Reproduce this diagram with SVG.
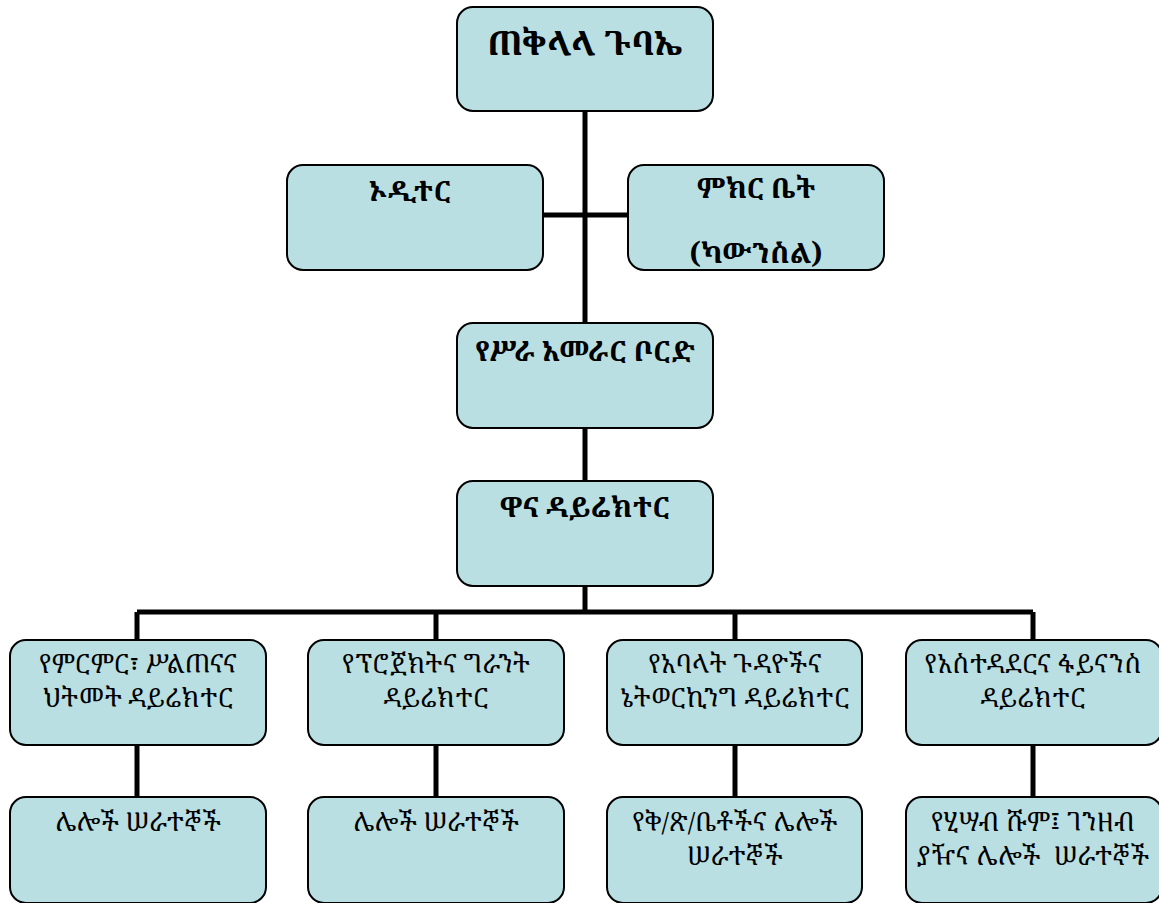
<svg xmlns="http://www.w3.org/2000/svg" width="1159" height="903" viewBox="0 0 1159 903">
<style>
.box{fill:#B9DFE2;stroke:#000;stroke-width:2}
.t{font-family:"Noto Serif Ethiopic","Noto Sans Ethiopic","Abyssinica SIL","Noto Sans","DejaVu Sans",sans-serif;fill:#000;text-anchor:middle}
.b{font-weight:bold;font-size:28px}
.h{font-weight:bold;font-size:34px}
.n{font-size:26px}
.c{fill:none;stroke:#000;stroke-width:5}
</style>
<rect width="1159" height="903" fill="#fff"/>
<g id="connectors">
<path class="c" d="M585 111V323M543 215H628M585 428V481M585 586V612M137 612H1033M137 612V640M436 612V640M735 612V640M1033 612V640M137 745V797M436 745V797M735 745V797M1033 745V797"/>
</g>
<g id="n1"><rect class="box" x="457" y="7" width="256" height="104" rx="16"/><text class="t h" x="585" y="55">ጠቅላላ ጉባኤ</text></g>
<g id="n2"><rect class="box" x="287" y="165" width="256" height="105" rx="16"/><text class="t b" x="410" y="201">ኦዲተር</text></g>
<g id="n3"><rect class="box" x="628" y="165" width="256" height="105" rx="16"/><text class="t b" x="756" y="198">ምክር ቤት</text><text class="t b" x="756" y="263">(ካውንስል)</text></g>
<g id="n4"><rect class="box" x="457" y="323" width="256" height="105" rx="16"/><text class="t b" x="585" y="361">የሥራ አመራር ቦርድ</text></g>
<g id="n5"><rect class="box" x="457" y="481" width="256" height="105" rx="16"/><text class="t b" x="585" y="517">ዋና ዳይሬክተር</text></g>
<g id="n6"><rect class="box" x="10" y="640" width="256" height="105" rx="16"/><text class="t n" x="138" y="673">የምርምር፣ ሥልጠናና</text><text class="t n" x="138" y="707">ህትመት ዳይሬክተር</text></g>
<g id="n7"><rect class="box" x="308" y="640" width="256" height="105" rx="16"/><text class="t n" x="436" y="673">የፕሮጀክትና ግራንት</text><text class="t n" x="436" y="707">ዳይሬክተር</text></g>
<g id="n8"><rect class="box" x="607" y="640" width="255" height="105" rx="16"/><text class="t n" x="735" y="673">የአባላት ጉዳዮችና</text><text class="t n" x="735" y="707">ኔትወርኪንግ ዳይሬክተር</text></g>
<g id="n9"><rect class="box" x="906" y="640" width="256" height="105" rx="16"/><text class="t n" x="1033" y="673">የአስተዳደርና ፋይናንስ</text><text class="t n" x="1033" y="707">ዳይሬክተር</text></g>
<g id="n10"><rect class="box" x="10" y="797" width="256" height="106" rx="16"/><text class="t n" x="138" y="831">ሌሎች ሠራተኞች</text></g>
<g id="n11"><rect class="box" x="308" y="797" width="256" height="106" rx="16"/><text class="t n" x="436" y="831">ሌሎች ሠራተኞች</text></g>
<g id="n12"><rect class="box" x="607" y="797" width="255" height="106" rx="16"/><text class="t n" x="735" y="831">የቅ/ጽ/ቤቶችና ሌሎች</text><text class="t n" x="735" y="865">ሠራተኞች</text></g>
<g id="n13"><rect class="box" x="906" y="797" width="256" height="106" rx="16"/><text class="t n" x="1033" y="831">የሂሣብ ሹም፤ ገንዘብ</text><text class="t n" x="1033" y="865" xml:space="preserve">ያዥና ሌሎች  ሠራተኞች</text></g>
</svg>
